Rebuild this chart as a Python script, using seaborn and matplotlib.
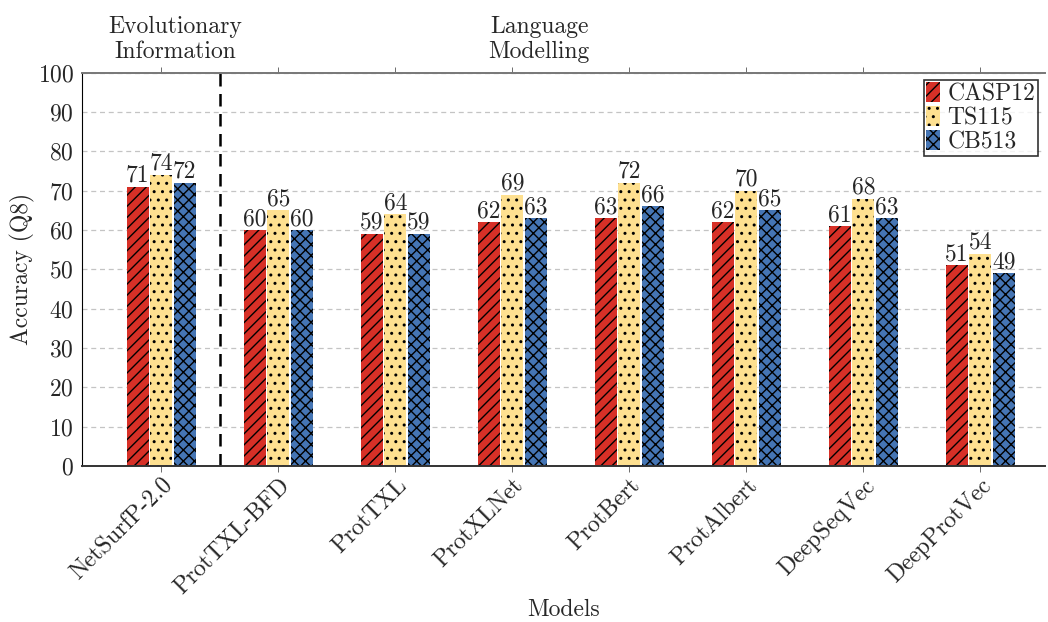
import pandas as pd
import matplotlib
matplotlib.use("Agg")
import matplotlib.pyplot as plt
import seaborn as sns

# data
models = ["NetSurfP-2.0", "ProtTXL-BFD", "ProtTXL", "ProtXLNet",
          "ProtBert", "ProtAlbert", "DeepSeqVec", "DeepProtVec"]
casp12 = [71, 60, 59, 62, 63, 62, 61, 51]
ts115 = [74, 65, 64, 69, 72, 70, 68, 54]
cb513 = [72, 60, 59, 63, 66, 65, 63, 49]
datasets = ["CASP12", "TS115", "CB513"]

df = pd.DataFrame({"Model": models * 3,
                   "Dataset": [d for d in datasets for _ in models],
                   "Accuracy": casp12 + ts115 + cb513})

sns.set_style("white")
plt.rcParams["font.family"] = "serif"
plt.rcParams["font.serif"] = ["cmr10", "DejaVu Serif"]
plt.rcParams["axes.formatter.use_mathtext"] = True
plt.rcParams["hatch.linewidth"] = 1.0
plt.rcParams["hatch.color"] = "black"

renkler = ["#d73027", "#fee090", "#4575b4"]
desenler = ["///", "..", "xxx"]
FS = 17

fig = plt.figure(figsize=(10.48, 6.22), dpi=100)
ax = fig.add_axes([0.078, 0.251, 0.919, 0.632])

sns.barplot(data=df, x="Model", y="Accuracy", hue="Dataset", palette=renkler,
            width=0.6, gap=0.06, ax=ax, saturation=1, legend=False)

for cont, h in zip(ax.containers, desenler):
    for p in cont:
        p.set_hatch(h)
        p.set_edgecolor("black")
        p.set_linewidth(0)
    ax.bar_label(cont, labels=[f"{int(v)}" for v in cont.datavalues],
                 fontsize=FS, padding=0)

# legend
handles = [plt.Rectangle((0, 0), 1, 1, facecolor=c, hatch=h, edgecolor="black", linewidth=0)
           for c, h in zip(renkler, desenler)]
leg = ax.legend(handles, datasets, loc="upper right", fontsize=FS,
                handlelength=0.6, handleheight=0.9, handletextpad=0.3,
                borderpad=0.1, labelspacing=0.05, fancybox=False,
                frameon=True, edgecolor="black", borderaxespad=0.3)
leg.get_frame().set_linewidth(1.2)

ax.set_ylim(0, 100)
ax.set_xlim(-0.68, 7.55)
ax.set_yticks(range(0, 101, 10))
ax.yaxis.grid(True, linestyle=(0, (4, 3)), color="#c4c4c4", linewidth=0.9)
ax.set_axisbelow(True)

ax.axvline(0.5, color="black", linestyle=(0, (5, 3)), linewidth=1.8)

ax.spines["right"].set_visible(False)
ax.spines["top"].set_linestyle((0, (4, 1)))
ax.spines["top"].set_color("#777777")
ax.spines["top"].set_linewidth(1.4)
ax.spines["left"].set_color("black")
ax.spines["bottom"].set_color("#333333")
ax.spines["bottom"].set_linewidth(1.4)

ax.tick_params(axis="x", top=True, bottom=True, direction="out", length=4,
               width=0.6, color="#555555", labelsize=FS, pad=2)
ax.tick_params(axis="y", left=False, labelsize=FS, pad=2)
plt.setp(ax.get_xticklabels(), rotation=45, ha="right", rotation_mode="anchor")

ax.set_xlabel("Models", fontsize=FS, labelpad=0)
ax.set_ylabel("Accuracy (Q8)", fontsize=FS, labelpad=2)

ax.text(0.12, 102.5, "Evolutionary\nInformation", ha="center", va="bottom",
        fontsize=FS, linespacing=1.15)
ax.text(3.23, 102.5, "Language\nModelling", ha="center", va="bottom",
        fontsize=FS, linespacing=1.15)

fig.savefig("out.png", dpi=100)
